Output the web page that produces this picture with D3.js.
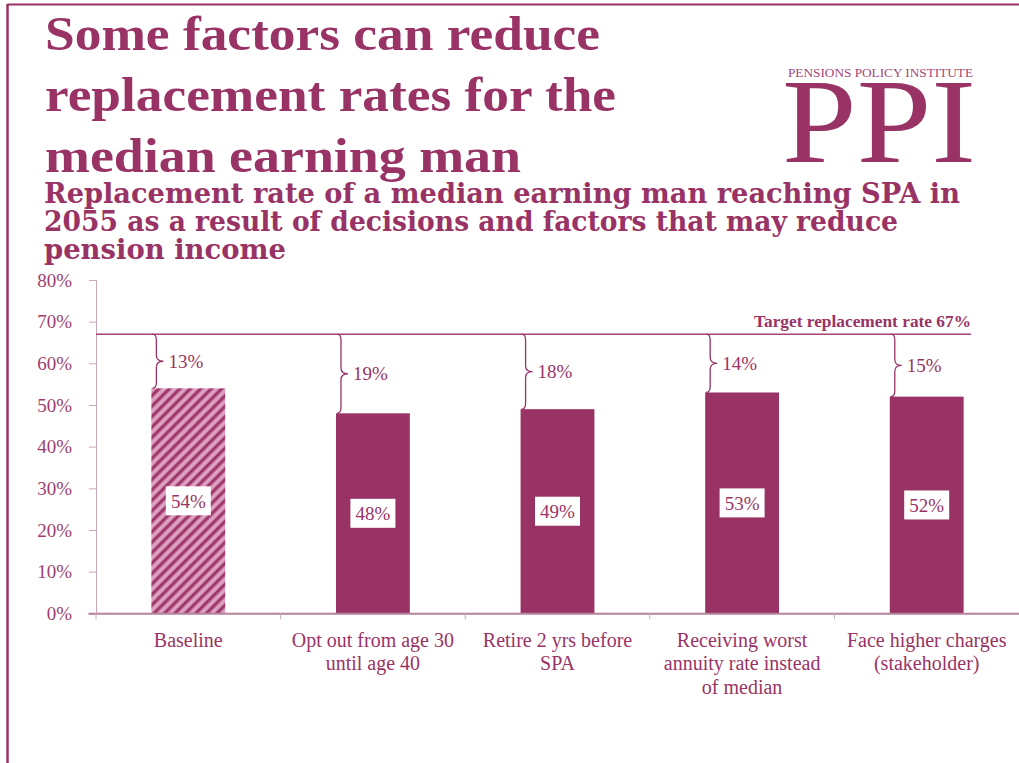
<!DOCTYPE html>
<html>
<head>
<meta charset="utf-8">
<script src="https://cdn.jsdelivr.net/npm/d3@7"></script>
<style>
  html, body { margin: 0; padding: 0; background: #fff; }
  svg { display: block; font-family: "Liberation Serif", "Times New Roman", serif; }
</style>
</head>
<body>
<svg id="chart" width="1019" height="763"></svg>
<script>
// Replacement rates for a median earner, and the shortfall from the 67% target
const categories = [
  "Baseline",
  "Opt out from age 30 until age 40",
  "Retire 2 yrs before SPA",
  "Receiving worst annuity rate instead of median",
  "Face higher charges (stakeholder)"
];
const categoryLines = [
  ["Baseline"],
  ["Opt out from age 30", "until age 40"],
  ["Retire 2 yrs before", "SPA"],
  ["Receiving worst", "annuity rate instead", "of median"],
  ["Face higher charges", "(stakeholder)"]
];
const values = [54, 48, 49, 53, 52];
const targetRate = 67;
const yTicks = [0, 10, 20, 30, 40, 50, 60, 70, 80];

const titleLines = ["Some factors can reduce", "replacement rates for the", "median earning man"];
const subtitleLines = [
  "Replacement rate of a median earning man reaching SPA in",
  "2055 as a result of decisions and factors that may reduce",
  "pension income"
];

const plum = "#993366";
const svg = d3.select("#chart");

svg.append("rect").attr("width", 1019).attr("height", 763).attr("fill", "#fff");

// Frame lines (top and left)
svg.append("line").attr("x1", 7.5).attr("x2", 1019).attr("y1", 4.5).attr("y2", 4.5)
  .attr("stroke", plum).attr("stroke-width", 2);
svg.append("line").attr("x1", 7.5).attr("x2", 7.5).attr("y1", 4).attr("y2", 763)
  .attr("stroke", plum).attr("stroke-width", 2.5);

// Title
const titleWidths = [555, 571, 476];
svg.append("g").selectAll("text").data(titleLines).join("text")
  .attr("x", 45).attr("y", (d, i) => 50 + i * 61)
  .attr("font-size", 49).attr("font-weight", "bold").attr("fill", plum)
  .attr("textLength", (d, i) => titleWidths[i]).attr("lengthAdjust", "spacingAndGlyphs")
  .text(d => d);

// Subtitle
const subWidths = [916, 854, 242];
svg.append("g").selectAll("text").data(subtitleLines).join("text")
  .attr("x", 44).attr("y", (d, i) => 202.5 + i * 28)
  .attr("font-size", 27).attr("font-weight", "bold").attr("fill", plum)
  .style("font-family", "'DejaVu Serif', serif")
  .attr("textLength", (d, i) => subWidths[i]).attr("lengthAdjust", "spacingAndGlyphs")
  .text(d => d);

// Logo
svg.append("text").attr("x", 788).attr("y", 77.3).attr("font-size", 12).attr("fill", "#a3477a")
  .attr("textLength", 185).attr("lengthAdjust", "spacingAndGlyphs")
  .text("PENSIONS POLICY INSTITUTE");
svg.append("text").attr("x", 782).attr("y", 162).attr("font-size", 121).attr("fill", plum)
  .attr("textLength", 194).attr("lengthAdjust", "spacingAndGlyphs")
  .text("PPI");

// Scales
const x = d3.scaleBand().domain(categories).range([96, 1019]).paddingInner(0.6).paddingOuter(0.3);
const y = d3.scaleLinear().domain([0, 80]).range([613.3, 280]);
const step = x.step();

// Hatched fill for the baseline bar
const defs = svg.append("defs");
const pat = defs.append("pattern").attr("id", "hatch")
  .attr("patternUnits", "userSpaceOnUse").attr("width", 7.4).attr("height", 7.4)
  .attr("patternTransform", "rotate(45)");
pat.append("rect").attr("width", 7.4).attr("height", 7.4).attr("fill", "#dea2c1");
pat.append("rect").attr("x", 0.6).attr("width", 1.6).attr("height", 7.4).attr("fill", "#b9548a");
pat.append("rect").attr("x", 1.2).attr("width", 2.4).attr("height", 7.4).attr("fill", plum);
pat.append("rect").attr("x", 3.6).attr("width", 0.8).attr("height", 7.4).attr("fill", "#b9548a");

// Y axis
const yAxis = d3.axisLeft(y).tickValues(yTicks).tickFormat(d => d + "%")
  .tickSize(7).tickPadding(17);
const yg = svg.append("g").attr("transform", "translate(96,0)").call(yAxis);
yg.attr("font-family", null).attr("font-size", null);
yg.select(".domain").attr("stroke", "#c9a9b9").attr("stroke-width", 1);
yg.selectAll(".tick line").attr("stroke", "#c9a9b9");
yg.selectAll(".tick text").attr("font-size", 19).attr("fill", "#9e3e70");

// Bars
svg.append("g").selectAll("rect").data(values).join("rect")
  .attr("x", (d, i) => x(categories[i]))
  .attr("y", d => y(d))
  .attr("width", x.bandwidth())
  .attr("height", d => y(0) - y(d))
  .attr("fill", (d, i) => i === 0 ? "url(#hatch)" : plum);

// X axis line and category boundary ticks
svg.append("line").attr("x1", 88.5).attr("x2", 1019).attr("y1", y(0) + 0.5).attr("y2", y(0) + 0.5)
  .attr("stroke", "#b5839c").attr("stroke-width", 2);
const boundaries = categories.map(c => x(c) - step * 0.3);
svg.append("g").selectAll("line").data(boundaries).join("line")
  .attr("x1", d => d).attr("x2", d => d)
  .attr("y1", y(0)).attr("y2", y(0) + 6)
  .attr("stroke", "#c9a9b9").attr("stroke-width", 1);

// Category labels
const catG = svg.append("g").selectAll("text").data(categoryLines).join("text")
  .attr("text-anchor", "middle").attr("font-size", 20).attr("fill", plum);
catG.selectAll("tspan").data((d, i) => d.map(line => ({ line, i })))
  .join("tspan")
  .attr("x", d => x(categories[d.i]) + x.bandwidth() / 2)
  .attr("y", (d, j) => 646.5 + j * 23.5)
  .text(d => d.line);

// Target line and label
svg.append("line").attr("x1", 96).attr("x2", 971).attr("y1", y(targetRate)).attr("y2", y(targetRate))
  .attr("stroke", "#a3437a").attr("stroke-width", 1.5);
svg.append("text").attr("x", 754).attr("y", 327).attr("font-size", 16).attr("font-weight", "bold")
  .attr("fill", plum).attr("textLength", 217).attr("lengthAdjust", "spacingAndGlyphs")
  .text("Target replacement rate " + targetRate + "%");

// Braces showing the shortfall from target
function bracePath(x0, yTop, yBot) {
  const xv = x0 + 5, tip = x0 + 12, r = 6;
  const ym = (yTop + yBot) / 2;
  return `M${x0 + 1},${yTop} Q${xv},${yTop} ${xv},${yTop + r} L${xv},${ym - r} Q${xv},${ym} ${tip},${ym}` +
         ` Q${xv},${ym} ${xv},${ym + r} L${xv},${yBot - r} Q${xv},${yBot} ${x0 + 1},${yBot}`;
}
const gapG = svg.append("g");
values.forEach((v, i) => {
  const x0 = x(categories[i]);
  const yTop = y(targetRate), yBot = y(v);
  gapG.append("path").attr("d", bracePath(x0, yTop, yBot))
    .attr("fill", "none").attr("stroke", plum).attr("stroke-width", 1.3);
  gapG.append("text").attr("x", x0 + 17).attr("y", (yTop + yBot) / 2 + 6.5)
    .attr("font-size", 19).attr("fill", plum)
    .text((targetRate - v) + "%");
});

// Value labels in white boxes at bar mid-height
const valG = svg.append("g");
values.forEach((v, i) => {
  const cx = x(categories[i]) + x.bandwidth() / 2;
  const cy = (y(v) + y(0)) / 2;
  valG.append("rect").attr("x", cx - 22.5).attr("y", cy - 14.5).attr("width", 45).attr("height", 29)
    .attr("fill", "#fff");
  valG.append("text").attr("x", cx).attr("y", cy + 7).attr("text-anchor", "middle")
    .attr("font-size", 19).attr("fill", plum).text(v + "%");
});
</script>
</body>
</html>
